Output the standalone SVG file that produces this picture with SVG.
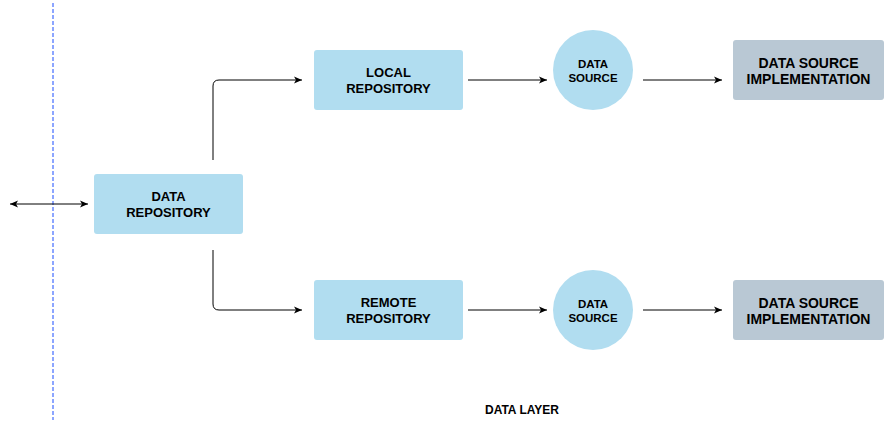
<svg xmlns="http://www.w3.org/2000/svg" width="885" height="423" viewBox="0 0 885 423">
<style>
.box{fill:#b1ddf0;stroke:none}
.impl{fill:#b9c8d4;stroke:none}
.t{font-family:"Liberation Sans",Arial,sans-serif;font-weight:bold;fill:#000;text-anchor:middle}
.c{fill:none;stroke:#000;stroke-width:1}
</style>
<defs>
<marker id="ah" markerWidth="10" markerHeight="10" refX="9" refY="5" orient="auto-start-reverse" markerUnits="userSpaceOnUse">
<path d="M1,1.5 L9,5 L1,8.5 L3,5 Z" fill="#000"/>
</marker>
</defs>
<rect width="885" height="423" fill="#fff"/>
<line x1="53" y1="3" x2="53" y2="420" stroke="#1a4cff" stroke-width="1" stroke-dasharray="4,2"/>
<g id="connectors">
<line class="c" x1="10" y1="204" x2="88" y2="204" marker-start="url(#ah)" marker-end="url(#ah)"/>
<path class="c" d="M213,160 L213,86 Q213,80 219,80 L302,80" marker-end="url(#ah)"/>
<path class="c" d="M213,250 L213,304 Q213,310 219,310 L302,310" marker-end="url(#ah)"/>
<line class="c" x1="468" y1="80" x2="547" y2="80" marker-end="url(#ah)"/>
<line class="c" x1="643" y1="80" x2="722" y2="80" marker-end="url(#ah)"/>
<line class="c" x1="468" y1="310" x2="547" y2="310" marker-end="url(#ah)"/>
<line class="c" x1="643" y1="310" x2="722" y2="310" marker-end="url(#ah)"/>
</g>
<g id="data-repository">
<rect class="box" x="94" y="174" width="149" height="60" rx="3"/>
<text class="t" font-size="13" x="168.5" y="201">DATA</text>
<text class="t" font-size="13" x="168.5" y="217">REPOSITORY</text>
</g>
<g id="local-repository">
<rect class="box" x="314" y="50" width="149" height="60" rx="3"/>
<text class="t" font-size="13" x="388.5" y="77">LOCAL</text>
<text class="t" font-size="13" x="388.5" y="93">REPOSITORY</text>
</g>
<g id="remote-repository">
<rect class="box" x="314" y="280" width="149" height="60" rx="3"/>
<text class="t" font-size="13" x="388.5" y="307">REMOTE</text>
<text class="t" font-size="13" x="388.5" y="323">REPOSITORY</text>
</g>
<g id="data-source-1">
<circle class="box" cx="593" cy="70" r="40"/>
<text class="t" font-size="11.5" x="593" y="68">DATA</text>
<text class="t" font-size="11.5" x="593" y="82">SOURCE</text>
</g>
<g id="data-source-2">
<circle class="box" cx="593" cy="310" r="40"/>
<text class="t" font-size="11.5" x="593" y="308">DATA</text>
<text class="t" font-size="11.5" x="593" y="322">SOURCE</text>
</g>
<g id="impl-1">
<rect class="impl" x="733" y="40" width="151" height="60" rx="3"/>
<text class="t" font-size="14" x="808.5" y="68">DATA SOURCE</text>
<text class="t" font-size="14" x="808.5" y="84">IMPLEMENTATION</text>
</g>
<g id="impl-2">
<rect class="impl" x="733" y="280" width="151" height="60" rx="3"/>
<text class="t" font-size="14" x="808.5" y="308">DATA SOURCE</text>
<text class="t" font-size="14" x="808.5" y="324">IMPLEMENTATION</text>
</g>
<g id="data-layer-label">
<text class="t" font-size="12" x="522" y="414">DATA LAYER</text>
</g>
</svg>
